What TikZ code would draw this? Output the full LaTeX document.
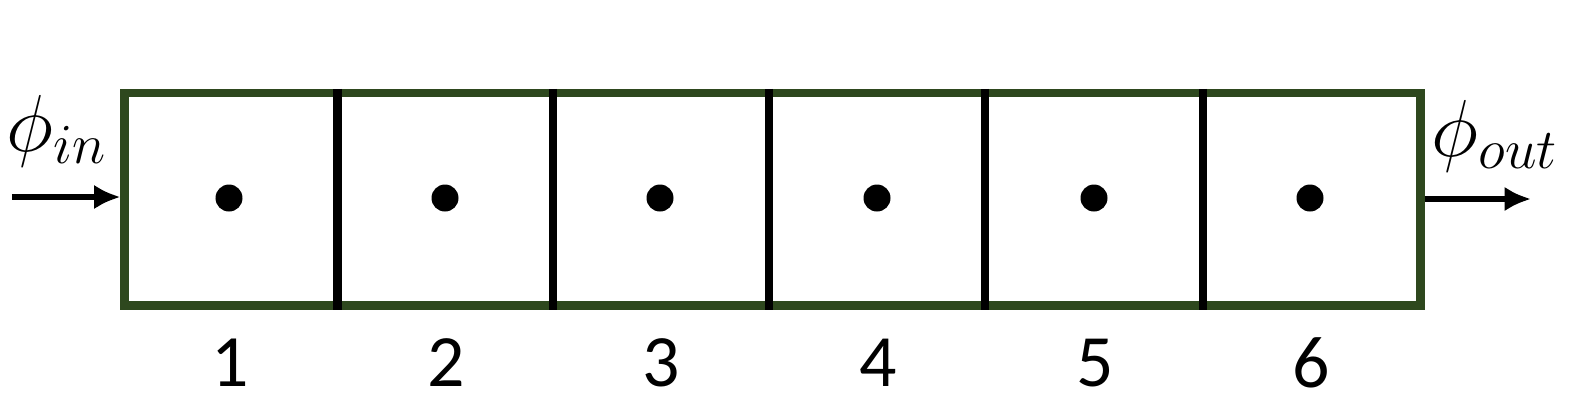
\RequirePackage{fix-cm}
\documentclass[tikz,border=0pt]{standalone}
\usepackage{fontspec}
\setmainfont{Carlito}
\usetikzlibrary{arrows.meta}
\definecolor{boxgreen}{RGB}{46,72,30}
\begin{document}
\begin{tikzpicture}[
    cellbox/.style={rectangle, draw=boxgreen, line width=2.3pt, minimum width=12.96cm, minimum height=2.125cm, inner sep=0pt},
    wall/.style={line width=2.3pt},
    flow/.style={->, line width=1.6pt},
    particle/.style={circle, fill, inner sep=0pt, minimum size=0.27cm},
    cellno/.style={font=\fontsize{21}{25}\selectfont, inner sep=1pt},
    flux/.style={font=\fontsize{23}{28}\selectfont, inner sep=1pt},
    >={Latex[length=7.5pt,width=7pt]}
]
\useasboundingbox (0,0) rectangle (15.69,4);

% Kaskade aus sechs Zellen
\node[cellbox] at (7.725,2.0075) (box) {};
\foreach \x in {3.375,5.53,7.69,9.85,12.03}
    \draw[wall] (\x,0 |- box.north) -- (\x,0 |- box.south);

% Partikel und Zellnummern
\foreach \x/\n in {2.29/1,4.45/2,6.60/3,8.77/4,10.94/5,13.10/6} {
    \node[particle] at (\x,2.02) (p\n) {};
    \node[cellno] at (\x+0.01,0.37) (n\n) {\n};
}

% Zu- und Abfluss
\coordinate (inflow) at (0.12,2.03);
\coordinate (outflow) at (15.31,2.01);
\draw[flow] (inflow) -- (inflow -| box.west);
\draw[flow] (box.east |- outflow) -- (outflow);
\node[flux] at (0.57,2.69) (phiin) {$\phi_{in}$};
\node[flux] at (14.95,2.64) (phiout) {$\phi_{out}$};
\end{tikzpicture}
\end{document}
